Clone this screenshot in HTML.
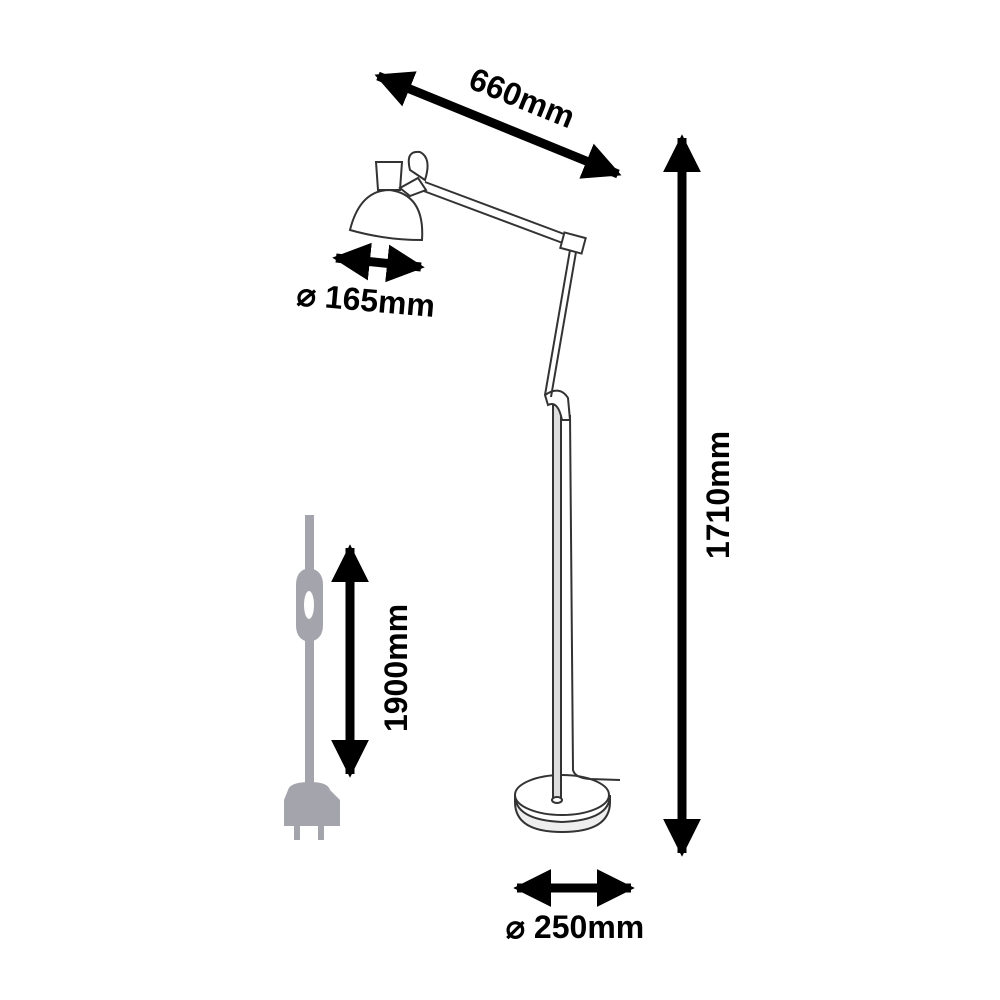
<!DOCTYPE html>
<html><head><style>body{margin:0;background:#fff}</style></head><body>
<svg width="1000" height="1000" viewBox="0 0 1000 1000" xmlns="http://www.w3.org/2000/svg" style="display:block">
<defs>
<marker id="ah" viewBox="0 0 10 10" refX="9" refY="5" markerWidth="4.2" markerHeight="4.2" orient="auto-start-reverse" markerUnits="strokeWidth">
<path d="M0,0 L10,5 L0,10 z" fill="#000"/></marker>
</defs>
<g stroke="#000" stroke-width="9" fill="none">
<line x1="378" y1="76" x2="618" y2="174" marker-start="url(#ah)" marker-end="url(#ah)"/>
<line x1="682" y1="138" x2="682" y2="853" marker-start="url(#ah)" marker-end="url(#ah)"/>
<line x1="336" y1="258" x2="421" y2="267" marker-start="url(#ah)" marker-end="url(#ah)"/>
<line x1="517" y1="888" x2="631" y2="888" marker-start="url(#ah)" marker-end="url(#ah)"/>
<line x1="350" y1="548" x2="350" y2="774" marker-start="url(#ah)" marker-end="url(#ah)"/>
</g>
<g font-family="Liberation Sans, sans-serif" font-weight="bold" font-size="32" fill="#000">
<text x="0" y="0" transform="translate(518,108) rotate(22)" text-anchor="middle">660mm</text>
<text x="0" y="0" transform="translate(729,495) rotate(-90)" text-anchor="middle">1710mm</text>
<text x="0" y="0" transform="translate(365,311) rotate(5)" text-anchor="middle">⌀ 165mm</text>
<text x="575" y="938" text-anchor="middle">⌀ 250mm</text>
<text x="0" y="0" transform="translate(407,668) rotate(-90)" text-anchor="middle">1900mm</text>
</g>
<!-- cord -->
<g fill="#a4a4ac">
<rect x="305" y="515" width="9" height="60"/>
<path d="M296,585 Q296,570 309,568 Q323,570 323,585 L323,625 Q323,640 309,642 Q296,640 296,625z"/>
<rect x="305" y="640" width="9" height="145"/>
<path d="M288,790 Q290,782 310,782 Q328,782 330,790 L340,800 L340,826 L284,826 L284,800z"/>
<rect x="294" y="826" width="6" height="14"/><rect x="318" y="826" width="6" height="14"/>
</g>
<ellipse cx="309" cy="605" rx="5" ry="14" fill="#fff"/>
<!-- lamp -->
<g stroke="#333" stroke-width="2" fill="#fff">
<path d="M515,795 Q515,820 562,822 Q610,820 610,795 L610,802 Q610,832 562,832 Q515,832 515,802z" fill="#eee"/>
<ellipse cx="562" cy="795" rx="47" ry="20"/>
<path d="M570,415 L573,770 Q575,778 590,779 L620,780" fill="none"/>
<rect x="553" y="405" width="8" height="395" fill="#ddd"/>
<ellipse cx="557" cy="800" rx="5" ry="3"/>
<path d="M545,395 Q560,385 568,398 L570,420 L562,420 Q558,400 548,405z"/>
<path d="M570,250 L545,395 M576,252 L551,397" fill="none"/>
<path d="M425,182 L572,237 M421,190 L568,245" fill="none"/>
<rect x="562" y="235" width="22" height="16" transform="rotate(15 573 243)"/>
<path d="M410,170 Q405,150 420,152 Q432,158 425,180z"/>
<path d="M376,162 L402,162 L400,190 L378,190z"/>
<path d="M350,230 Q360,190 390,190 Q425,195 422,240 Q385,240 350,230z"/>
<path d="M400,188 L418,178 L426,190 L410,196z"/>
</g>
</svg>
</body></html>
